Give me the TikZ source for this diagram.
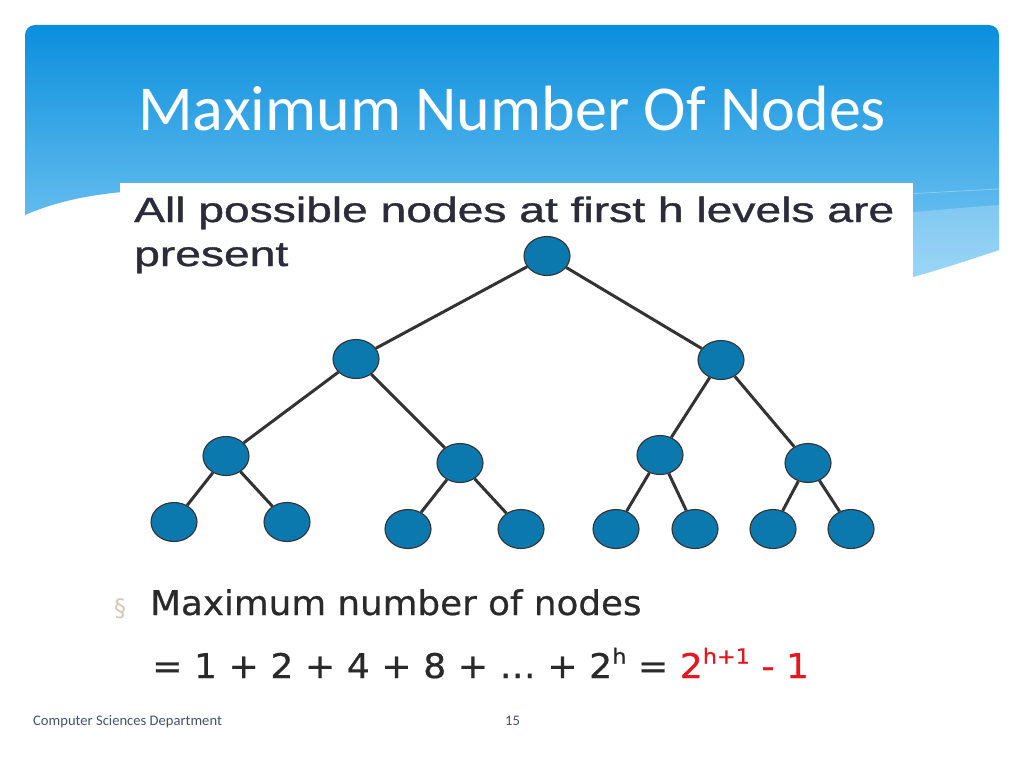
\documentclass[tikz,border=0pt]{standalone}
\usepackage{fontspec}
\setmainfont{Carlito}
\newfontfamily\arialf[FakeBold=0.9]{Liberation Sans}
\newfontfamily\verdf[FakeBold=0.6]{DejaVu Sans}
\newfontfamily\verdplain{DejaVu Sans}
\usetikzlibrary{shapes.geometric}
\definecolor{hdrtop}{HTML}{0A8FDD}
\definecolor{hdrbot}{HTML}{8AD0F6}
\definecolor{nodefill}{HTML}{0B78AE}
\definecolor{edgecol}{HTML}{333333}
\definecolor{subtxt}{HTML}{2B2B3A}
\definecolor{bultxt}{HTML}{2A2A2A}
\definecolor{bulmark}{HTML}{D2C9B6}
\definecolor{redtxt}{HTML}{E8141E}
\definecolor{foot}{HTML}{44546A}
\tikzset{
  tnode/.style={ellipse, draw=edgecol, line width=1.1pt, fill=nodefill, minimum width=46pt, minimum height=39pt, inner sep=0pt},
  tedge/.style={draw=edgecol, line width=3pt},
  txt/.style={inner sep=0pt, anchor=base west}
}
\newcommand{\supx}[1]{\raisebox{0.42em}{\fontsize{21}{21}\selectfont #1}}
\begin{document}
\begin{tikzpicture}[x=1pt,y=-1pt]
\useasboundingbox (0,0) rectangle (1024,768);
\fill[white] (0,0) rectangle (1024,768);
% header
\shade[top color=hdrtop, bottom color=hdrbot] (25,215) [rounded corners=10pt] -- (25,25) -- (999,25) -- (999,180) [sharp corners] -- (999,250) .. controls (960,263) and (935,271) .. (913,277) -- (600,300) -- (135,191) .. controls (90,194) and (55,202) .. (25,215) -- cycle;
\fill[white, opacity=0.22] (600,240) .. controls (800,225) and (900,212) .. (999,205) -- (999,250) .. controls (960,263) and (935,271) .. (913,277) -- (600,300) -- cycle;
\draw[white, opacity=0.3, line width=0.8pt] (600,215) .. controls (800,200) and (900,194) .. (999,189);
% white image box
\fill[white] (120,183) rectangle (913,560);
% title
\node[txt, text=white, font=\fontsize{64}{64}\selectfont] (title) at (138,130) {Maximum Number Of Nodes};
% subtitle
\node[txt, text=subtxt] (sub1) at (134,222) {\scalebox{1.32}[1]{\arialf\fontsize{35}{35}\selectfont All possible nodes at first h levels are}};
\node[txt, text=subtxt] (sub2) at (134,266) {\scalebox{1.32}[1]{\arialf\fontsize{35}{35}\selectfont present}};
% tree nodes
\node[tnode] (r) at (547,256) {};
\node[tnode] (a) at (356,359) {};
\node[tnode] (b) at (721,360) {};
\node[tnode] (c) at (226,456) {};
\node[tnode] (d) at (460,463) {};
\node[tnode] (e) at (660,455) {};
\node[tnode] (f) at (808,463) {};
\node[tnode] (l1) at (174,522) {};
\node[tnode] (l2) at (287,522) {};
\node[tnode] (l3) at (408,529) {};
\node[tnode] (l4) at (521,529) {};
\node[tnode] (l5) at (616,529) {};
\node[tnode] (l6) at (695,529) {};
\node[tnode] (l7) at (773,529) {};
\node[tnode] (l8) at (851,529) {};
\draw[tedge] (r) -- (a);
\draw[tedge] (r) -- (b);
\draw[tedge] (a) -- (c);
\draw[tedge] (a) -- (d);
\draw[tedge] (b) -- (e);
\draw[tedge] (b) -- (f);
\draw[tedge] (c) -- (l1);
\draw[tedge] (c) -- (l2);
\draw[tedge] (d) -- (l3);
\draw[tedge] (d) -- (l4);
\draw[tedge] (e) -- (l5);
\draw[tedge] (e) -- (l6);
\draw[tedge] (f) -- (l7);
\draw[tedge] (f) -- (l8);
% bullet
\node[txt, text=bulmark, font=\verdplain\fontsize{24}{24}\selectfont] (bul) at (114,616) {§};
\node[txt, text=bultxt] (btext) at (150,615) {\scalebox{1.05}[1]{\verdf\fontsize{34}{34}\selectfont Maximum number of nodes}};
\node[txt, text=bultxt] (formula) at (152,678) {\scalebox{1.065}[1]{\verdf\fontsize{34}{34}\selectfont = 1 + 2 + 4 + 8 + … + 2\supx{h} = \textcolor{redtxt}{2\supx{h+1} - 1}}};
% footer
\node[txt, text=foot, font=\fontsize{14.6}{14.6}\selectfont] (foot1) at (33,725) {Computer Sciences Department};
\node[txt, text=foot, font=\fontsize{14.6}{14.6}\selectfont] (foot2) at (505,725) {15};
\end{tikzpicture}
\end{document}
